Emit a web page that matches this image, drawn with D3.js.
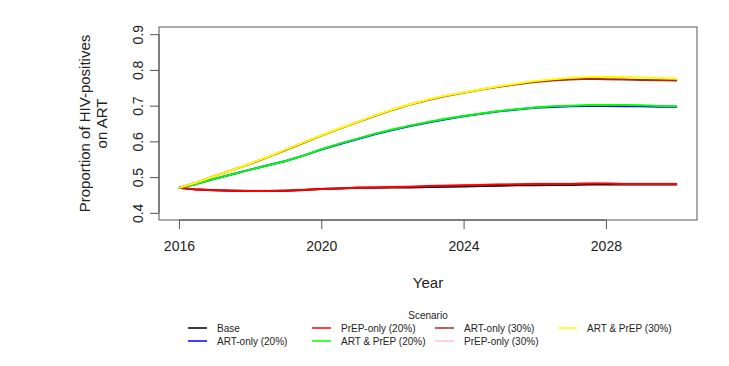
<!DOCTYPE html>
<meta charset="utf-8">
<script src="https://d3js.org/d3.v7.min.js"></script>
<style>
  body { margin: 0; background: #fff; }
  text { font-family: "Liberation Sans", Arial, sans-serif; fill: #222; }
</style>
<div id="my_dataviz"></div>
<script>

// years read every half year
var years = d3.range(2016, 2030.01, 0.5);

var base      = [0.470,0.465,0.463,0.462,0.461,0.461,0.462,0.464,0.467,0.468,0.470,0.470,0.471,0.471,0.472,0.473,0.474,0.475,0.476,0.477,0.477,0.478,0.478,0.479,0.479,0.479,0.479,0.479,0.479];
var artOnly20 = [0.470,0.481,0.495,0.508,0.521,0.533,0.545,0.560,0.577,0.592,0.606,0.620,0.632,0.643,0.653,0.662,0.670,0.677,0.684,0.689,0.694,0.696,0.698,0.699,0.699,0.698,0.698,0.697,0.697];
var prep20    = [0.470,0.465,0.463,0.462,0.461,0.461,0.462,0.464,0.467,0.468,0.470,0.471,0.472,0.473,0.475,0.476,0.477,0.478,0.479,0.480,0.481,0.481,0.481,0.482,0.482,0.481,0.481,0.481,0.481];
var artPrep20 = [0.470,0.481,0.495,0.508,0.521,0.533,0.545,0.560,0.578,0.593,0.607,0.621,0.633,0.644,0.654,0.663,0.671,0.678,0.685,0.690,0.695,0.698,0.700,0.702,0.702,0.702,0.701,0.699,0.698];
var artOnly30 = [0.470,0.485,0.503,0.520,0.537,0.556,0.576,0.596,0.616,0.635,0.653,0.671,0.688,0.703,0.716,0.727,0.736,0.745,0.753,0.760,0.766,0.770,0.773,0.775,0.774,0.773,0.772,0.771,0.770];
var prep30    = [0.470,0.466,0.464,0.463,0.462,0.462,0.463,0.465,0.468,0.469,0.471,0.472,0.473,0.474,0.476,0.477,0.478,0.479,0.480,0.481,0.482,0.482,0.482,0.483,0.483,0.482,0.482,0.482,0.482];
var artPrep30 = [0.470,0.485,0.503,0.520,0.538,0.557,0.577,0.597,0.617,0.636,0.654,0.672,0.689,0.704,0.717,0.728,0.737,0.746,0.754,0.762,0.769,0.774,0.778,0.780,0.781,0.780,0.779,0.777,0.776];

var scenarios = ["Base","ART-only (20%)","PrEP-only (20%)","ART & PrEP (20%)","ART-only (30%)","PrEP-only (30%)","ART & PrEP (30%)"];
var colors    = ["black","blue","red","#00ff00","#a52a2a","pink","yellow"];
var series    = [base, artOnly20, prep20, artPrep20, artOnly30, prep30, artPrep30];
var drawOrder = [5, 0, 1, 2, 3, 4, 6];

var xTicks = [2016, 2020, 2024, 2028];
var yTicks = [0.4, 0.5, 0.6, 0.7, 0.8, 0.9];

var W = 729, H = 366;
var box = {left: 159, right: 697, top: 27, bottom: 220};

var svg = d3.select("#my_dataviz").append("svg")
    .attr("width", W).attr("height", H);

// R style: axis range padded 4% each side
var x = d3.scaleLinear().domain([2016 - 0.56, 2030 + 0.56]).range([box.left, box.right]);
var y = d3.scaleLinear().domain([0.38, 0.92]).range([box.bottom, box.top]);

// lines
var line = d3.line()
  .x(function(d) { return x(d[0]); })
  .y(function(d) { return y(d[1]); });

drawOrder.forEach(function(i) {
  svg.append("path")
    .datum(years.map(function(yr, k) { return [yr, series[i][k]]; }))
    .attr("fill", "none")
    .attr("stroke", colors[i])
    .attr("stroke-width", 2)
    .attr("stroke-linejoin", "round")
    .attr("d", line);
});

// box
svg.append("rect")
  .attr("x", box.left).attr("y", box.top)
  .attr("width", box.right - box.left).attr("height", box.bottom - box.top)
  .attr("fill", "none").attr("stroke", "#555").attr("stroke-width", 1);

// x axis
var xAxis = svg.append("g")
  .attr("transform", "translate(0," + box.bottom + ")")
  .call(d3.axisBottom(x).tickValues(xTicks).tickFormat(d3.format("d")).tickSize(9).tickPadding(12));
xAxis.select(".domain").attr("d", "M" + x(2016) + ",0H" + x(2028)).attr("stroke", "#555");
xAxis.selectAll(".tick line").attr("stroke", "#555");
xAxis.selectAll("text").style("font-size", "14px").attr("fill", "#222");

// y axis
var yAxis = svg.append("g")
  .attr("transform", "translate(" + box.left + ",0)")
  .call(d3.axisLeft(y).tickValues(yTicks).tickFormat(d3.format(".1f")).tickSize(9));
yAxis.select(".domain").attr("d", "M0," + y(0.4) + "V" + y(0.9)).attr("stroke", "#555");
yAxis.selectAll(".tick line").attr("stroke", "#555");
yAxis.selectAll("text")
  .style("font-size", "14px").attr("fill", "#222")
  .attr("x", null).attr("dy", null)
  .attr("text-anchor", "middle")
  .attr("transform", "translate(-21,0) rotate(-90)")
  .attr("dy", "0.35em");

// axis titles
svg.append("text")
  .attr("transform", "translate(85," + ((box.top + box.bottom) / 2) + ") rotate(-90)")
  .attr("text-anchor", "middle").attr("dy", "0.35em")
  .style("font-size", "15px")
  .text("Proportion of HIV-positives");
svg.append("text")
  .attr("transform", "translate(102," + ((box.top + box.bottom) / 2) + ") rotate(-90)")
  .attr("text-anchor", "middle").attr("dy", "0.35em")
  .style("font-size", "15px")
  .text("on ART");
svg.append("text")
  .attr("x", (box.left + box.right) / 2).attr("y", 283)
  .attr("text-anchor", "middle").attr("dy", "0.35em")
  .style("font-size", "15px")
  .text("Year");

// legend
svg.append("text")
  .attr("x", (box.left + box.right) / 2).attr("y", 315)
  .attr("text-anchor", "middle").attr("dy", "0.35em")
  .style("font-size", "10px")
  .text("Scenario");

var colX = [188, 312, 435, 558];
var rowY = [328, 341];
var legend = svg.append("g").selectAll("g")
  .data(scenarios)
  .enter().append("g")
  .attr("transform", function(d, i) {
    return "translate(" + colX[Math.floor(i / 2)] + "," + rowY[i % 2] + ")";
  });
legend.append("line")
  .attr("x1", 0).attr("x2", 19)
  .attr("stroke", function(d, i) { return colors[i]; })
  .attr("stroke-width", 1.5);
legend.append("text")
  .attr("x", 29).attr("dy", "0.35em")
  .style("font-size", "10px")
  .text(function(d) { return d; });

</script>
